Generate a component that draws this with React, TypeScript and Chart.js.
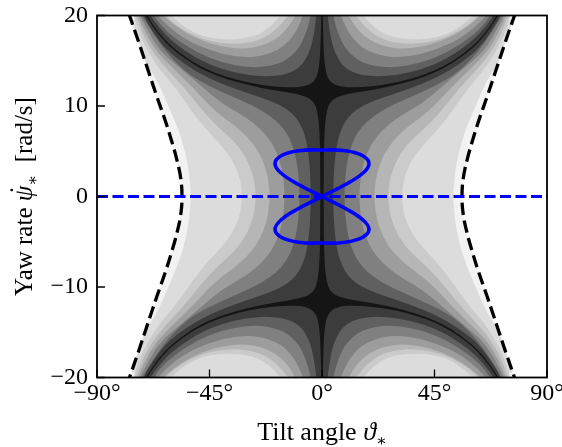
import { useEffect, useRef } from "react";
import { Chart, registerables } from "chart.js";

Chart.register(...registerables);

type Pt = [number, number];

const xTickValues = [-90, -45, 0, 45, 90];
const xTickLabels = ["−90°", "−45°", "0°", "45°", "90°"];
const yTickValues = [-20, -10, 0, 10, 20];
const yTickLabels = ["−20", "−10", "0", "10", "20"];

// Band fills, darkest (next to the zero set) to lightest (next to the dashed boundary)
const bandColors = [
  "#151515",
  "#3c3c3c",
  "#606060",
  "#808080",
  "#9d9d9d",
  "#b6b6b6",
  "#cbcbcb",
  "#dcdcdc",
  "#f2f2f2",
];

// Level boundaries in the quadrant ϑ ≥ 0, ψ̇ ≥ 0 as [ϑ (deg), ψ̇ (rad/s)].
// Lower branches rise from the ψ̇ = 0 axis beneath the dark ridge,
// upper branches are the arcs that sit above the ridge.
const lowerBranch0: Pt[] = [[0.64, 0], [0.7, 3.44], [0.8, 5.21], [1.0, 6.98], [1.3, 8.28], [2, 9.58], [3, 10.3], [5, 10.86], [8, 11.18], [12, 11.41], [20, 11.77], [30, 12.33], [38, 12.95], [45, 13.69], [52, 14.68], [60, 16.3], [65, 17.74], [70, 19.72], [71.5, 20.6]];
const lowerBranch1: Pt[] = [[4.52, 0], [4.6, 1.55], [4.8, 2.82], [5.2, 4.2], [6, 5.78], [7, 6.93], [9, 8.22], [12, 9.25], [16, 10.0], [22, 10.71], [30, 11.44], [40, 12.42], [50, 13.71], [60, 15.64], [65, 17.1], [70, 19.2], [71.2, 20], [71.8, 20.6]];
const lowerBranch2: Pt[] = [[9.02, 0], [9.2, 1.62], [9.6, 2.87], [10.5, 4.37], [12, 5.82], [14, 6.99], [18, 8.35], [24, 9.51], [30, 10.33], [40, 11.53], [50, 12.91], [56, 14.1], [62.5, 16], [67, 17.8], [72, 20], [72.7, 20.6]];
const lowerBranch3: Pt[] = [[14.98, 0], [15.2, 1.4], [15.8, 2.66], [17, 4.04], [19, 5.41], [22, 6.71], [27, 8.06], [33, 9.18], [40, 10.25], [47.5, 12], [56, 14], [64.5, 16], [69.1, 18], [72.8, 20], [73.5, 20.6]];
const lowerBranch4: Pt[] = [[20.98, 0], [21.3, 1.43], [22, 2.52], [23.5, 3.86], [26, 5.23], [30, 6.64], [35, 7.86], [40, 8.82], [46, 10.3], [51.5, 12], [59, 14], [66.2, 16], [70.5, 18], [73.6, 20], [74.3, 20.6]];
const lowerBranch5: Pt[] = [[26.52, 0], [26.9, 1.42], [27.6, 2.35], [29.5, 3.8], [32, 5.0], [36, 6.33], [42, 7.76], [48.5, 9.7], [55, 12], [62, 14], [67.8, 16], [71.8, 18], [74.4, 20], [75.2, 20.6]];
const lowerBranch6: Pt[] = [[31.99, 0], [32.4, 1.33], [33.2, 2.29], [35, 3.55], [38, 4.88], [42, 6.14], [47, 7.6], [52, 9.4], [58.5, 12], [65, 14], [69.5, 16], [73.2, 18], [75.3, 20], [76, 20.6]];
const lowerBranch7: Pt[] = [[52.5, 0], [52.9, 2], [54, 4], [55.8, 6], [58.3, 8], [61.5, 10], [64.5, 12], [67.5, 13.5], [70.5, 14.8], [75, 17], [81, 20.6]];

const upperBranch0: Pt[] = [[0.31, 20.6], [0.324, 20], [0.4, 18.7], [0.5, 17.5], [0.7, 16.04], [1.0, 14.85], [1.5, 13.85], [2, 13.33], [3, 12.79], [5, 12.34], [8, 12.12], [12, 12.04], [20, 12.16], [30, 12.6], [38, 13.19], [45, 13.9], [52, 14.89], [60, 16.51], [65, 17.96], [70, 19.96], [70.3, 20.6]];
const upperBranch1: Pt[] = [[2.22, 20.6], [2.29, 20], [2.5, 19.44], [3, 18.37], [4, 16.95], [5, 16.04], [7, 14.94], [9, 14.31], [12, 13.77], [16, 13.42], [22, 13.25], [30, 13.41], [40, 14.04], [50, 15.2], [60, 17.14], [65, 18.61], [68, 19.74], [68.6, 20], [68.9, 20.6]];
const upperBranch2: Pt[] = [[4.45, 20.6], [4.56, 20], [5, 19.45], [6, 18.39], [8, 17.0], [10, 16.13], [14, 15.12], [18, 14.61], [24, 14.29], [30, 14.29], [40, 14.78], [50, 15.88], [60, 17.7], [65, 19.1], [67.3, 20], [67.8, 20.6]];
const upperBranch3: Pt[] = [[7.35, 20.6], [7.54, 20], [8, 19.71], [9, 19.02], [11, 17.97], [14, 16.94], [18, 16.12], [24, 15.52], [30, 15.36], [40, 15.69], [50, 16.73], [55, 17.45], [60, 18.45], [64, 19.5], [65.6, 20], [66, 20.6]];
const upperBranch4: Pt[] = [[10.2, 20.6], [10.46, 20], [11, 19.86], [12, 19.35], [14, 18.55], [17, 17.7], [21, 16.98], [27, 16.44], [33, 16.31], [40, 16.54], [47, 17.1], [53, 17.85], [58, 18.75], [62, 19.6], [63.5, 20], [64, 20.6]];
const upperBranch5: Pt[] = [[12.8, 20.6], [13.09, 20], [14, 19.87], [16, 19.15], [19, 18.3], [23, 17.55], [28, 17.05], [34, 16.85], [40, 16.95], [46, 17.25], [52, 17.9], [57, 18.65], [60.5, 19.4], [62.5, 20], [63, 20.6]];
const upperBranch6: Pt[] = [[16.4, 20.6], [16.65, 20], [18, 19.55], [21, 18.7], [25, 17.95], [30, 17.5], [36, 17.35], [42, 17.4], [48, 17.75], [53, 18.35], [57, 19.15], [59.5, 19.8], [60.5, 20], [61, 20.6]];

const lowerBranches: Pt[][] = [lowerBranch0, lowerBranch1, lowerBranch2, lowerBranch3, lowerBranch4, lowerBranch5, lowerBranch6, lowerBranch7];
const upperBranches: (Pt[] | null)[] = [upperBranch0, upperBranch1, upperBranch2, upperBranch3, upperBranch4, upperBranch5, upperBranch6, null];

// Dashed boundary of the admissible region (quadrant ϑ ≥ 0, ψ̇ ≥ 0)
const boundaryQuadrant: Pt[] = [[56, 0], [56.5, 2], [58, 4], [60, 6], [62.6, 8.3], [66, 11], [70, 14.3], [73.5, 17.2], [77, 20], [78.2, 21]];

// Closed trajectory (figure eight)
const orbitTheta = [0, 9.4, 16.3, 18.8, 16.3, 9.4, 0, -9.4, -16.3, -18.8, -16.3, -9.4, 0, 9.4, 16.3, 18.8, 16.3, 9.4, 0, -9.4, -16.3, -18.8, -16.3, -9.4, 0];
const orbitRate = [0, 1.33, 2.57, 3.63, 4.5, 5.05, 5.14, 5.05, 4.5, 3.63, 2.57, 1.33, 0, -1.33, -2.57, -3.63, -4.5, -5.05, -5.14, -5.05, -4.5, -3.63, -2.57, -1.33, 0];

// Equilibrium line ψ̇ = 0
const equilibriumTheta = [-90, 90];
const equilibriumRate = [0, 0];

const SERIF = "'Liberation Serif', 'DejaVu Serif', serif";

function reversed<T>(arr: T[]): T[] {
  return arr.slice().reverse();
}

function levelOutline(k: number): Pt[] {
  const a = lowerBranches[k];
  const b = upperBranches[k];
  const out: Pt[] = [];
  a.forEach(([t, v]) => out.push([t, v]));
  if (b) reversed(b).forEach(([t, v]) => out.push([t, v]));
  if (b) b.forEach(([t, v]) => out.push([-t, v]));
  reversed(a).forEach(([t, v]) => out.push([-t, v]));
  a.forEach(([t, v]) => out.push([-t, -v]));
  if (b) reversed(b).forEach(([t, v]) => out.push([-t, -v]));
  if (b) b.forEach(([t, v]) => out.push([t, -v]));
  reversed(a).forEach(([t, v]) => out.push([t, -v]));
  return out;
}

function domainOutline(): Pt[] {
  const d = boundaryQuadrant;
  const out: Pt[] = [];
  for (let i = d.length - 1; i >= 0; i--) out.push([d[i][0], -d[i][1]]);
  for (let i = 1; i < d.length; i++) out.push([d[i][0], d[i][1]]);
  for (let i = d.length - 1; i >= 0; i--) out.push([-d[i][0], d[i][1]]);
  for (let i = 1; i < d.length; i++) out.push([-d[i][0], -d[i][1]]);
  return out;
}

// Closed smooth outline: quadratic segments through the midpoints of the data polygon
function tracePath(chart: any, pts: Pt[]) {
  const ctx = chart.ctx as CanvasRenderingContext2D;
  const xs = chart.scales.x;
  const ys = chart.scales.y;
  const px = pts.map(([t, v]) => [xs.getPixelForValue(t), ys.getPixelForValue(v)]);
  const n = px.length;
  const mid = (a: number[], b: number[]) => [(a[0] + b[0]) / 2, (a[1] + b[1]) / 2];
  ctx.beginPath();
  const start = mid(px[n - 1], px[0]);
  ctx.moveTo(start[0], start[1]);
  for (let i = 0; i < n; i++) {
    const p = px[i];
    const m = mid(p, px[(i + 1) % n]);
    ctx.quadraticCurveTo(p[0], p[1], m[0], m[1]);
  }
  ctx.closePath();
}

const fieldPlugin = {
  id: "bandedField",
  beforeDatasetsDraw(chart: any) {
    const { ctx, chartArea } = chart;
    ctx.save();
    ctx.beginPath();
    ctx.rect(chartArea.left, chartArea.top, chartArea.right - chartArea.left, chartArea.bottom - chartArea.top);
    ctx.clip();
    tracePath(chart, domainOutline());
    ctx.fillStyle = bandColors[8];
    ctx.fill();
    ctx.clip();
    for (let k = 7; k >= 0; k--) {
      tracePath(chart, levelOutline(k));
      ctx.fillStyle = bandColors[k];
      ctx.fill();
    }
    ctx.restore();
  },
};

type Run = { text: string; font: string; dy?: number };

function runsWidth(ctx: CanvasRenderingContext2D, runs: Run[]) {
  let w = 0;
  runs.forEach((r) => {
    ctx.font = r.font;
    w += ctx.measureText(r.text).width;
  });
  return w;
}

function drawRuns(ctx: CanvasRenderingContext2D, runs: Run[], x0: number, y0: number) {
  let x = x0;
  runs.forEach((r) => {
    ctx.font = r.font;
    ctx.fillText(r.text, x, y0 + (r.dy || 0));
    x += ctx.measureText(r.text).width;
  });
}

const framePlugin = {
  id: "frameAndTitles",
  afterDraw(chart: any) {
    const ctx = chart.ctx as CanvasRenderingContext2D;
    const { left, right, top, bottom } = chart.chartArea;
    const xs = chart.scales.x;
    const ys = chart.scales.y;
    ctx.save();
    ctx.strokeStyle = "#000";
    ctx.lineWidth = 1.3;
    ctx.beginPath();
    xTickValues.forEach((v) => {
      const X = xs.getPixelForValue(v);
      ctx.moveTo(X, bottom);
      ctx.lineTo(X, bottom - 8);
    });
    yTickValues.forEach((v) => {
      const Y = ys.getPixelForValue(v);
      ctx.moveTo(left, Y);
      ctx.lineTo(left + 8, Y);
    });
    ctx.stroke();
    ctx.lineWidth = 1.8;
    ctx.strokeRect(left, top, right - left, bottom - top);

    ctx.fillStyle = "#000";
    ctx.textAlign = "left";
    ctx.textBaseline = "alphabetic";

    // horizontal axis title
    const xRuns: Run[] = [
      { text: "Tilt angle ", font: `26px ${SERIF}` },
      { text: "ϑ", font: `italic 26px ${SERIF}` },
      { text: "∗", font: `16px 'DejaVu Serif', serif`, dy: 6 },
    ];
    const xw = runsWidth(ctx, xRuns);
    drawRuns(ctx, xRuns, (left + right) / 2 - xw / 2, 440);

    // vertical axis title
    ctx.save();
    ctx.translate(32, (top + bottom) / 2);
    ctx.rotate(-Math.PI / 2);
    const yRuns: Run[] = [
      { text: "Yaw rate ", font: `25px ${SERIF}` },
      { text: "ψ", font: `italic 25px ${SERIF}` },
      { text: "∗", font: `16px 'DejaVu Serif', serif`, dy: 6 },
      { text: "  [rad/s]", font: `25px ${SERIF}` },
    ];
    const yw = runsWidth(ctx, yRuns);
    const x0 = -yw / 2;
    drawRuns(ctx, yRuns, x0, 0);
    ctx.font = `25px ${SERIF}`;
    const pre = ctx.measureText("Yaw rate ").width;
    ctx.font = `italic 25px ${SERIF}`;
    const psiW = ctx.measureText("ψ").width;
    ctx.textAlign = "center";
    ctx.fillText("˙", x0 + pre + psiW / 2 + 2, -5);
    ctx.restore();
    ctx.restore();
  },
};

export default function App() {
  const canvasRef = useRef<HTMLCanvasElement | null>(null);

  useEffect(() => {
    const canvas = canvasRef.current;
    if (!canvas) return;
    const orbit = orbitTheta.map((t, i) => ({ x: t, y: orbitRate[i] }));
    const equilibrium = equilibriumTheta.map((t, i) => ({ x: t, y: equilibriumRate[i] }));
    const rightBoundary = [
      ...reversed(boundaryQuadrant).map(([t, v]) => ({ x: t, y: -v })),
      ...boundaryQuadrant.slice(1).map(([t, v]) => ({ x: t, y: v })),
    ];
    const leftBoundary = rightBoundary.map((p) => ({ x: -p.x, y: p.y }));

    const chart = new Chart(canvas, {
      type: "scatter",
      data: {
        datasets: [
          {
            data: orbit,
            showLine: true,
            borderColor: "#0000ff",
            borderWidth: 3.6,
            pointRadius: 0,
            tension: 0.4,
          },
          {
            data: equilibrium,
            showLine: true,
            borderColor: "#0000ff",
            borderWidth: 3,
            borderDash: [11, 4.5],
            pointRadius: 0,
          },
          {
            data: rightBoundary,
            showLine: true,
            borderColor: "#000000",
            borderWidth: 3.3,
            borderDash: [12.5, 5.5],
            pointRadius: 0,
            tension: 0.4,
          },
          {
            data: leftBoundary,
            showLine: true,
            borderColor: "#000000",
            borderWidth: 3.3,
            borderDash: [12.5, 5.5],
            pointRadius: 0,
            tension: 0.4,
          },
        ],
      },
      options: {
        animation: false,
        responsive: false,
        maintainAspectRatio: false,
        events: [],
        layout: { padding: { left: 0, right: 15, top: 15.5, bottom: 0 } },
        plugins: { legend: { display: false }, tooltip: { enabled: false } },
        scales: {
          x: {
            type: "linear",
            min: -90,
            max: 90,
            afterBuildTicks: (s: any) => {
              s.ticks = xTickValues.map((value) => ({ value }));
            },
            afterFit: (s: any) => {
              s.height = 69.5;
              s.paddingLeft = 0;
              s.paddingRight = 0;
            },
            ticks: {
              autoSkip: false,
              maxRotation: 0,
              padding: 2,
              color: "#000",
              font: { family: SERIF, size: 24 },
              callback: (_v: any, i: number) => xTickLabels[i],
            },
            grid: { display: false, drawTicks: false },
            border: { display: false },
          },
          y: {
            type: "linear",
            min: -20,
            max: 20,
            afterBuildTicks: (s: any) => {
              s.ticks = yTickValues.map((value) => ({ value }));
            },
            afterFit: (s: any) => {
              s.width = 97;
              s.paddingTop = 0;
              s.paddingBottom = 0;
            },
            ticks: {
              autoSkip: false,
              padding: 9,
              color: "#000",
              font: { family: SERIF, size: 24 },
              callback: (_v: any, i: number) => yTickLabels[i],
            },
            grid: { display: false, drawTicks: false },
            border: { display: false },
          },
        },
      },
      plugins: [fieldPlugin, framePlugin],
    });
    return () => chart.destroy();
  }, []);

  return (
    <div style={{ position: "absolute", left: 0, top: 0, width: 562, height: 447, background: "#fff" }}>
      <canvas ref={canvasRef} width={562} height={447} style={{ width: 562, height: 447, display: "block" }} />
    </div>
  );
}
